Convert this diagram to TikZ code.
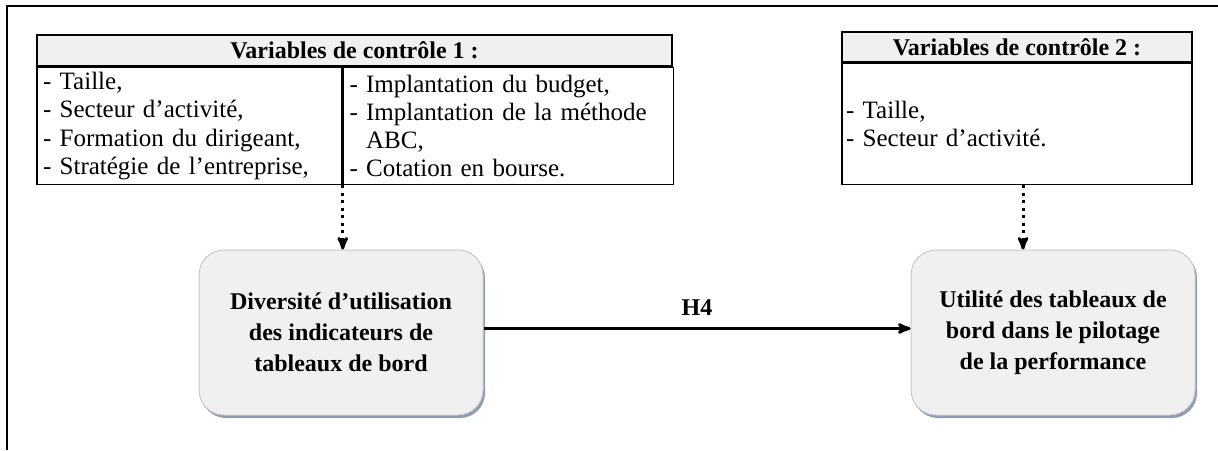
\documentclass[tikz,border=0pt]{standalone}
\usepackage{fontspec}
\setmainfont{Liberation Serif}
\usepackage{tikz}
\usetikzlibrary{shapes}
\usetikzlibrary{arrows}
\usetikzlibrary{shadows}
\definecolor{headgray}{HTML}{F0F0F0}
\definecolor{boxgray}{HTML}{F0F0F0}
\definecolor{boxline}{HTML}{C4C9D0}
\definecolor{boxshadow}{HTML}{8E9CB2}
\tikzset{
	main node/.style={rectangle,draw=boxline,fill=boxgray,rounded corners=25pt,line width=1pt,
		minimum width=284pt,minimum height=165pt,align=center,
		font=\fontsize{24}{31}\selectfont\bfseries,
		drop shadow={shadow xshift=2pt,shadow yshift=-3pt,fill=boxshadow,opacity=1}},
	head node/.style={rectangle,draw,line width=1.5pt,fill=headgray,inner sep=0pt,
		font=\fontsize{24}{28}\selectfont\bfseries},
	list node/.style={rectangle,draw,line width=1.5pt,inner xsep=6pt,inner ysep=0pt,align=left,
		font=\fontsize{25}{28.3}\selectfont},
	dotted arrow/.style={line width=3pt,dash pattern=on 3pt off 4.5pt},
	main arrow/.style={line width=3pt}
}

\begin{document}
\begin{tikzpicture}[x=1pt,y=-1pt,->,>=stealth']
	\useasboundingbox (0,0) rectangle (1218,450);
	% cadre
	\draw [-,line width=1.5pt] (7,450) -- (7,6) -- (1218,6);
	% variables de controle 1
	\node [head node,minimum width=635pt,minimum height=31pt] (1) at (354.5,50.5) {Variables de contrôle 1 :};
	\node [list node,anchor=north west,text width=293pt,minimum height=117pt] (2) at (1.south west)
		{- Taille,\\ - Secteur d’activité,\\ - Formation du dirigeant,\\ - Stratégie de l’entreprise,};
	\node [list node,anchor=north west,text width=318pt,minimum height=117pt] (3) at (2.north east)
		{- Implantation du budget,\\ - Implantation de la méthode\\ \phantom{-} ABC,\\ - Cotation en bourse.};
	% variables de controle 2
	\node [head node,minimum width=350pt,minimum height=30pt] (4) at (1017,47) {Variables de contrôle 2 :};
	\node [list node,anchor=north west,inner xsep=4pt,text width=342pt,minimum height=121pt] (5) at (4.south west)
		{- Taille,\\ - Secteur d’activité.};
	% variables principales
	\node [main node] (6) at (341,332.5) {Diversité d’utilisation\\ des indicateurs de\\ tableaux de bord};
	\node [main node] (7) at (1053,332.5) {Utilité des tableaux de\\ bord dans le pilotage\\ de la performance};
	\draw [dotted arrow] (2.south east) -- (2.south east |- 6.north);
	\draw [dotted arrow] ([xshift=6pt]5.south) -- ([xshift=6pt]5.south |- 7.north);
	\draw [main arrow] ([yshift=4pt]6.east) -- node [above=8pt,font=\fontsize{24}{28}\selectfont\bfseries] (8) {H4} ([yshift=4pt]7.west);
\end{tikzpicture}
\end{document}
